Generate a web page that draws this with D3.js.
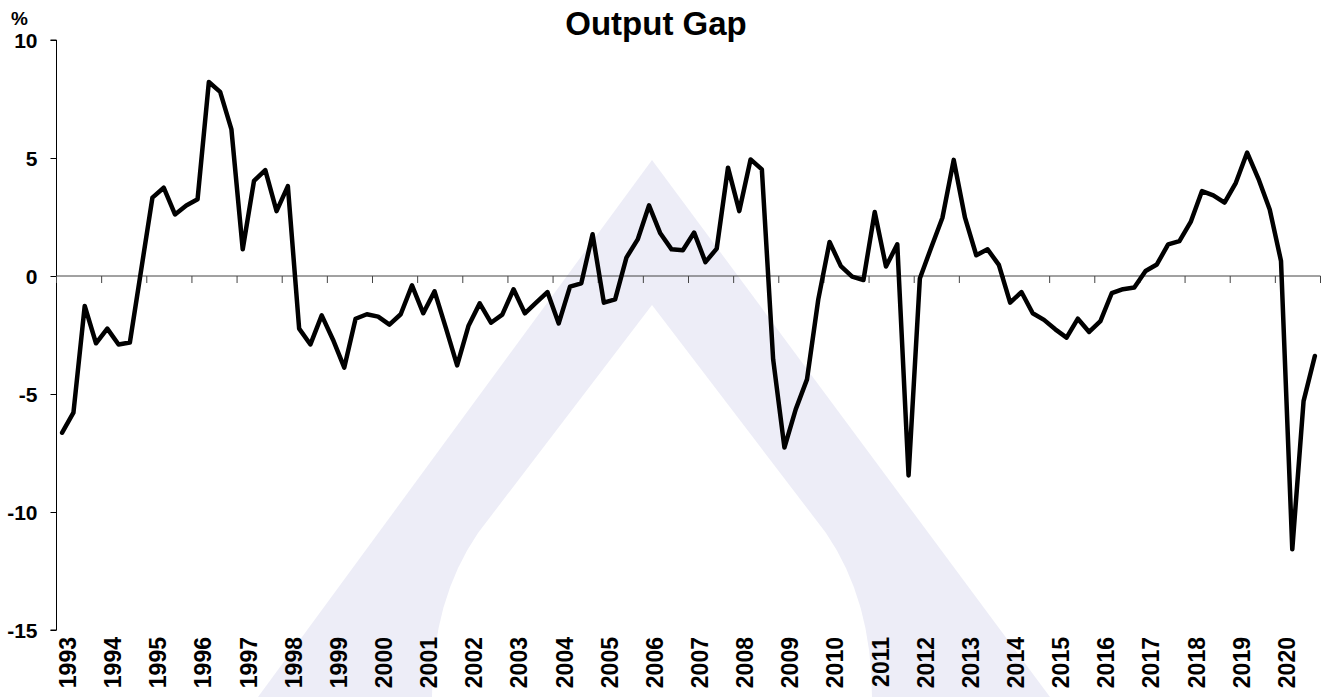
<!DOCTYPE html>
<html><head><meta charset="utf-8">
<script src="https://cdn.jsdelivr.net/npm/d3@7"></script>
<style>
body{margin:0;background:#fff}
svg{display:block}
text{font-family:Arial,"Liberation Sans",sans-serif;font-weight:bold;fill:#000}
</style>
</head><body>
<svg id="chart" width="1328" height="697"></svg>
<script>
const chartTitle = "Output Gap";
const unitLabel = "%";
const years = [1993,1994,1995,1996,1997,1998,1999,2000,2001,2002,2003,2004,2005,2006,2007,2008,2009,2010,2011,2012,2013,2014,2015,2016,2017,2018,2019,2020];
const quartersPerYear = ["Q1","Q2","Q3","Q4"];
const yTickValues = [10,5,0,-5,-10,-15];
const outputGap = [
 -6.64,-5.79,-1.27,-2.85, -2.23,-2.90,-2.82,0.25, 3.32,3.74,2.61,2.99, 3.25,8.22,7.80,6.21,
 1.13,4.03,4.49,2.75, 3.81,-2.23,-2.90,-1.67, -2.70,-3.88,-1.81,-1.62, -1.72,-2.06,-1.62,-0.40,
 -1.58,-0.65,-2.20,-3.79, -2.12,-1.16,-1.98,-1.64, -0.56,-1.58,-1.13,-0.68, -2.01,-0.45,-0.31,1.77,
 -1.13,-0.99,0.78,1.55, 2.99,1.81,1.13,1.09, 1.84,0.59,1.16,4.59, 2.75,4.94,4.52,-3.53,
 -7.27,-5.65,-4.38,-0.99, 1.44,0.42,-0.03,-0.17, 2.71,0.40,1.34,-8.45, -0.11,1.20,2.47,4.92,
 2.47,0.88,1.13,0.47, -1.13,-0.68,-1.58,-1.86, -2.26,-2.61,-1.81,-2.37, -1.91,-0.73,-0.56,-0.49,
 0.21,0.49,1.34,1.48, 2.29,3.60,3.42,3.11, 3.95,5.23,4.12,2.82, 0.64,-11.58,-5.30,-3.39
];

(function () {
const quarters = years.flatMap(yr => quartersPerYear.map(q => yr + q));
const data = quarters.map((q, i) => ({q, v: outputGap[i]}));

const svg = d3.select("#chart");
const mLeft = 56.5, mRight = 1320.5, mTop = 40, mBottom = 630;

// watermark
const wm = svg.append("g");
wm.append("path")
  .attr("d", "M652,160 L258,697 L1050,697 Z")
  .attr("fill", "#ededf7");
wm.append("path")
  .attr("d", "M652,305 L478,533 Q432,600 432,697 L872,697 Q872,600 826,533 Z")
  .attr("fill", "#ffffff");

const x = d3.scaleBand().domain(quarters).range([mLeft, mRight]).paddingInner(0).paddingOuter(0);
const y = d3.scaleLinear().domain([-15, 10]).range([mBottom, mTop]);

// title
svg.append("text").attr("x", 656).attr("y", 35).attr("text-anchor", "middle")
  .style("font-size", "33px").text(chartTitle);
svg.append("text").attr("x", 11).attr("y", 25).style("font-size", "19px").text(unitLabel);

// y axis
const yAxis = d3.axisLeft(y).tickValues(yTickValues).tickSize(6).tickPadding(0).tickFormat(d => String(d));
const gy = svg.append("g").attr("transform", `translate(${mLeft},0)`).call(yAxis);
gy.select(".domain").attr("stroke", "#000").attr("stroke-width", 1).attr("d", `M-6,${y(10)}H0V${y(-15)}H-6`);
gy.selectAll(".tick line").attr("stroke", "#000");
gy.selectAll(".tick text").attr("x", -19).attr("dy", "0.36em")
  .style("font-size", "21px").style("font-family", "Arial,'Liberation Sans',sans-serif").style("font-weight", "bold").attr("fill", "#000");

// zero line with year ticks
const yearStarts = years.map(yr => yr + "Q1");
const xAxis = d3.axisBottom(x).tickValues(yearStarts).tickSize(7).tickFormat("");
const gx = svg.append("g").attr("transform", `translate(0,${y(0)})`).call(xAxis);
gx.select(".domain").attr("stroke", "#444").attr("d", `M${mLeft},0H${mRight}`);
gx.selectAll(".tick").attr("transform", d => `translate(${x(d)},0)`);
gx.selectAll(".tick line").attr("stroke", "#444");
gx.append("line").attr("x1", mRight).attr("x2", mRight).attr("y1", 0).attr("y2", 7).attr("stroke", "#444");

// year labels
svg.append("g").selectAll("text").data(years).join("text")
  .attr("transform", d => `translate(${x(d + "Q1") + x.bandwidth()},637) rotate(-90)`)
  .attr("text-anchor", "end")
  .attr("dy", "0.36em")
  .style("font-size", "23px")
  .text(d => d);

// line
const line = d3.line().x(d => x(d.q) + x.bandwidth() / 2).y(d => y(d.v));
svg.append("path").datum(data).attr("d", line)
  .attr("fill", "none").attr("stroke", "#000").attr("stroke-width", 4.5)
  .attr("stroke-linejoin", "round").attr("stroke-linecap", "round");
})();
</script>
</body></html>
